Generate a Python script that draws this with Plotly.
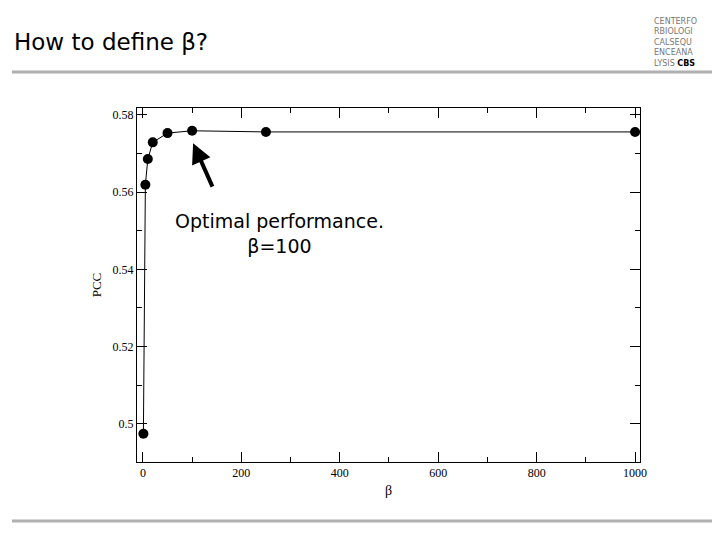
import plotly.graph_objects as go

beta = [1, 5, 10, 20, 50, 100, 250, 1000]
pcc = [0.4974, 0.5619, 0.5686, 0.5729, 0.5753, 0.5759, 0.5756, 0.5756]

fig = go.Figure()
fig.add_trace(go.Scatter(x=beta, y=pcc, mode="lines+markers",
                         line=dict(color="black", width=1),
                         marker=dict(color="black", size=10)))
ax = dict(showgrid=False, zeroline=False, showline=True, linecolor="black", linewidth=1,
          mirror="allticks", ticks="inside", ticklen=10, tickcolor="black", automargin=False,
          tickfont=dict(family="Liberation Serif", size=12, color="black"))
fig.update_xaxes(range=[-12, 1010], tickvals=[0, 200, 400, 600, 800, 1000],
                 minor=dict(ticks="inside", ticklen=5, dtick=100, tickcolor="black"),
                 title=dict(text="β", font=dict(family="Liberation Serif", size=14, color="black"), standoff=5), **ax)
fig.update_yaxes(range=[0.4901, 0.5818], tickvals=[0.5, 0.52, 0.54, 0.56, 0.58],
                 ticktext=["0.5", "0.52", "0.54", "0.56", "0.58"],
                 minor=dict(ticks="inside", ticklen=5, dtick=0.01, tickcolor="black"),
                 title=dict(text="PCC", font=dict(family="Liberation Serif", size=13, color="black"), standoff=8), **ax)
fig.update_layout(
    width=720, height=540, showlegend=False, plot_bgcolor="white", paper_bgcolor="white",
    margin=dict(l=129, r=88, t=100, b=86, autoexpand=False),
    shapes=[
        dict(type="line", xref="paper", yref="paper", x0=-0.2485, x1=1.155, y0=1.102, y1=1.102,
             line=dict(color="#b0b0b0", width=3)),
        dict(type="line", xref="paper", yref="paper", x0=-0.2485, x1=1.153, y0=-0.1667, y1=-0.1667,
             line=dict(color="#b0b0b0", width=3)),
    ],
    annotations=[
        dict(text="How to define β?", xref="paper", yref="paper", x=-0.2485, y=1.186,
             xanchor="left", yanchor="middle", showarrow=False,
             font=dict(family="DejaVu Sans", size=23, color="black")),
        dict(text="CENTERFO<br>RBIOLOGI<br>CALSEQU<br>ENCEANA<br>LYSIS <b style='color:black'>CBS</b>",
             xref="paper", yref="paper", x=1.024, y=1.186, xanchor="left", yanchor="middle",
             showarrow=False, align="left",
             font=dict(family="DejaVu Sans", size=8, color="#777777")),
        dict(text="Optimal performance.<br>β=100", x=278, y=0.5492, xref="x", yref="y",
             showarrow=False, font=dict(family="DejaVu Sans", size=19, color="black")),
        dict(x=102, y=0.5727, ax=20, ay=45, xref="x", yref="y",
             showarrow=True, arrowhead=2, arrowsize=1, arrowwidth=4, arrowcolor="black",
             text=""),
    ],
)
fig.write_html("out.html")
